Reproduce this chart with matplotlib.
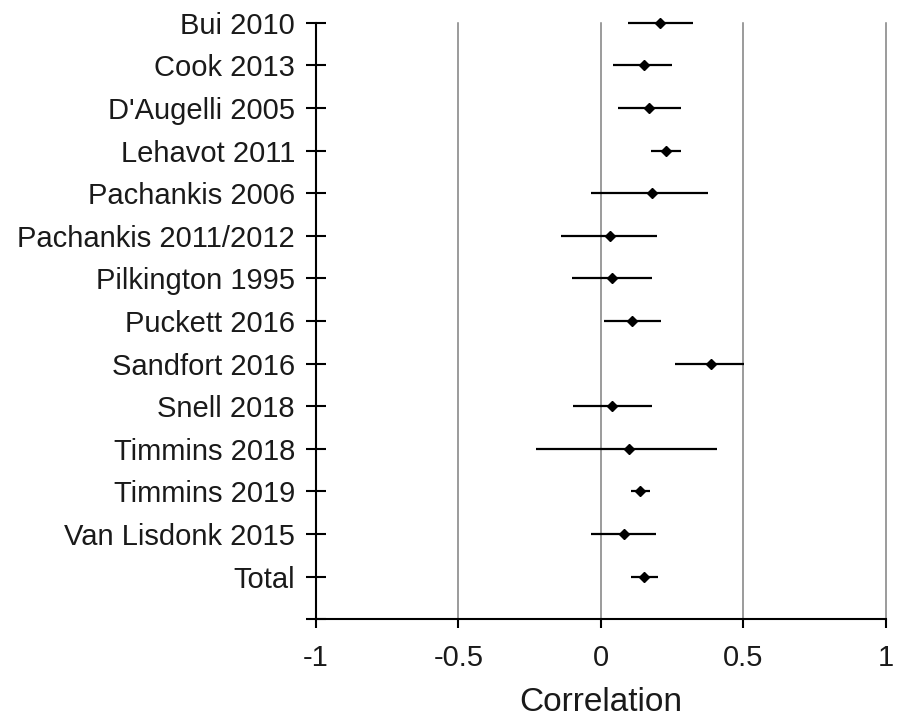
import numpy as np
import matplotlib
matplotlib.use("Agg")
import matplotlib.pyplot as plt

plt.rcParams['font.family'] = ['Liberation Sans', 'DejaVu Sans']

studies = ["Bui 2010", "Cook 2013", "D'Augelli 2005", "Lehavot 2011", "Pachankis 2006",
           "Pachankis 2011/2012", "Pilkington 1995", "Puckett 2016", "Sandfort 2016",
           "Snell 2018", "Timmins 2018", "Timmins 2019", "Van Lisdonk 2015", "Total"]
r_est = [0.208, 0.152, 0.170, 0.227, 0.178, 0.031, 0.038, 0.108, 0.386, 0.037, 0.100, 0.138, 0.082, 0.150]
ci_low = [0.094, 0.043, 0.061, 0.175, -0.034, -0.142, -0.103, 0.011, 0.258, -0.099, -0.229, 0.104, -0.034, 0.106]
ci_high = [0.324, 0.249, 0.281, 0.281, 0.377, 0.196, 0.180, 0.210, 0.501, 0.180, 0.407, 0.172, 0.192, 0.199]

fig = plt.figure(figsize=(9, 7.26), dpi=100)
ax = fig.add_axes([0.3511, 0.147, 0.6333, 0.8217])

ypos = np.arange(len(studies))

# vertical reference lines
for gx in [-0.5, 0, 0.5, 1]:
    ax.axvline(gx, color='#808080', lw=1.1, zorder=1, clip_on=False)

ax.hlines(ypos, ci_low, ci_high, color='black', lw=1.6, zorder=3, clip_on=False)
ax.plot(r_est, ypos, 'D', color='black', ms=5.5, zorder=4, clip_on=False)

ax.set_xlim(-1, 1)
ax.set_ylim(len(studies), 0)

ax.set_yticks(list(ypos) + [len(studies)])
ax.set_yticklabels(studies + [''])
ax.set_xticks([-1, -0.5, 0, 0.5, 1])
ax.set_xticklabels(['-1', '-0.5', '0', '0.5', '1'])

ax.spines['top'].set_visible(False)
ax.spines['right'].set_visible(False)
for s in ['left', 'bottom']:
    ax.spines[s].set_linewidth(1.5)
    ax.spines[s].set_color('black')

ax.tick_params(axis='y', direction='inout', length=14.4, width=1.5, pad=8,
               labelsize=21, colors='black')
ax.tick_params(axis='x', direction='out', length=6.5, width=1.5, pad=11,
               labelsize=21, colors='black')
for lab in ax.get_xticklabels() + ax.get_yticklabels():
    lab.set_color('#1a1a1a')

ax.set_xlabel('Correlation', fontsize=24, labelpad=11, color='#1a1a1a')

fig.savefig('out.png', dpi=100)
